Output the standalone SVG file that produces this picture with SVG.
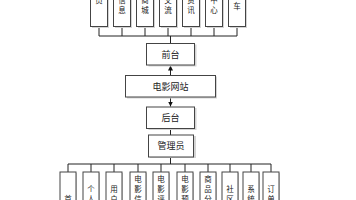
<svg xmlns="http://www.w3.org/2000/svg" width="356" height="200" viewBox="0 0 356 200">
<style>
.box{fill:#fff;stroke:#444;stroke-width:1}
.sh{fill:#d4d4d4}
.ln{stroke:#222;stroke-width:1;fill:none}
.t{font-family:"Noto Sans CJK SC","Noto Sans",sans-serif;font-size:7.5px;fill:#222;text-anchor:middle}
.m{font-family:"Noto Sans CJK SC","Noto Sans",sans-serif;font-size:9px;fill:#222;text-anchor:middle}
</style>
<defs>
<marker id="ah" viewBox="0 0 6 6" refX="6" refY="3" markerWidth="5" markerHeight="5" orient="auto" markerUnits="userSpaceOnUse">
<path d="M0,0 L6,3 L0,6 Z" fill="#111"/>
</marker>
</defs>
<rect width="356" height="200" fill="#fff"/>
<g id="connectors">
<path class="ln" d="M99,27V36M122,27V36M145,27V36M168,27V36M191,27V36M214,27V36M237,27V36M99,36H237M170.5,36V43"/>
<line class="ln" x1="170.5" y1="75" x2="170.5" y2="65.5" marker-end="url(#ah)"/>
<line class="ln" x1="170.5" y1="97" x2="170.5" y2="106.5" marker-end="url(#ah)"/>
<path class="ln" d="M170.5,128V135M170.5,157V164M68,164H271M68,164V172M91,164V172M114,164V172M138,164V172M161,164V172M185,164V172M208,164V172M230,164V172M251,164V172M271,164V172"/>
</g>
<g id="top1"><rect class="sh" x="92" y="-9" width="17" height="37"/><rect class="box" x="90.5" y="-10.5" width="17" height="37"/><text class="t" x="99" y="3">员</text></g>
<g id="top2"><rect class="sh" x="115" y="-9" width="17" height="37"/><rect class="box" x="113.5" y="-10.5" width="17" height="37"/><text class="t" x="122" y="3">信</text><text class="t" x="122" y="12.5">息</text></g>
<g id="top3"><rect class="sh" x="138" y="-9" width="17" height="37"/><rect class="box" x="136.5" y="-10.5" width="17" height="37"/><text class="t" x="145" y="3">商</text><text class="t" x="145" y="12.5">城</text></g>
<g id="top4"><rect class="sh" x="161" y="-9" width="17" height="37"/><rect class="box" x="159.5" y="-10.5" width="17" height="37"/><text class="t" x="168" y="3">交</text><text class="t" x="168" y="12.5">流</text></g>
<g id="top5"><rect class="sh" x="184" y="-9" width="17" height="37"/><rect class="box" x="182.5" y="-10.5" width="17" height="37"/><text class="t" x="191" y="3">资</text><text class="t" x="191" y="12.5">讯</text></g>
<g id="top6"><rect class="sh" x="207" y="-9" width="17" height="37"/><rect class="box" x="205.5" y="-10.5" width="17" height="37"/><text class="t" x="214" y="3">中</text><text class="t" x="214" y="12.5">心</text></g>
<g id="top7"><rect class="sh" x="230" y="-9" width="17" height="37"/><rect class="box" x="228.5" y="-10.5" width="17" height="37"/><text class="t" x="237" y="8.5">车</text></g>
<g id="qiantai"><rect class="sh" x="148.5" y="44.5" width="48" height="22"/><rect class="box" x="146.5" y="43.5" width="48" height="21.5"/><text class="m" x="170.5" y="57.5">前台</text></g>
<g id="website"><rect class="sh" x="127" y="76.5" width="90" height="22"/><rect class="box" x="125.5" y="75.5" width="90" height="21.5"/><text class="m" x="170.5" y="89.5">电影网站</text></g>
<g id="houtai"><rect class="sh" x="148.5" y="108" width="48" height="22"/><rect class="box" x="146.5" y="107" width="48" height="21.5"/><text class="m" x="170.5" y="121">后台</text></g>
<g id="admin"><rect class="sh" x="150" y="136" width="46" height="22"/><rect class="box" x="148.5" y="135" width="45" height="22"/><text class="m" x="171" y="149">管理员</text></g>
<g id="b1"><rect class="sh" x="61" y="173" width="16" height="40"/><rect class="box" x="60" y="172" width="16" height="40"/><text class="t" x="68" y="201.5">首</text></g>
<g id="b2"><rect class="sh" x="84" y="173" width="16" height="40"/><rect class="box" x="83" y="172" width="16" height="40"/><text class="t" x="91" y="192">个</text><text class="t" x="91" y="201.5">人</text></g>
<g id="b3"><rect class="sh" x="107" y="173" width="16" height="40"/><rect class="box" x="106" y="172" width="16" height="40"/><text class="t" x="114" y="192">用</text><text class="t" x="114" y="201.5">户</text></g>
<g id="b4"><rect class="sh" x="131" y="173" width="16" height="40"/><rect class="box" x="130" y="172" width="16" height="40"/><text class="t" x="138" y="182">电</text><text class="t" x="138" y="192">影</text><text class="t" x="138" y="201.5">信</text></g>
<g id="b5"><rect class="sh" x="154" y="173" width="16" height="40"/><rect class="box" x="153" y="172" width="16" height="40"/><text class="t" x="161" y="182">电</text><text class="t" x="161" y="192">影</text><text class="t" x="161" y="201.5">评</text></g>
<g id="b6"><rect class="sh" x="178" y="173" width="16" height="40"/><rect class="box" x="177" y="172" width="16" height="40"/><text class="t" x="185" y="182">电</text><text class="t" x="185" y="192">影</text><text class="t" x="185" y="201.5">预</text></g>
<g id="b7"><rect class="sh" x="201" y="173" width="16" height="40"/><rect class="box" x="200" y="172" width="16" height="40"/><text class="t" x="208" y="182">商</text><text class="t" x="208" y="192">品</text><text class="t" x="208" y="201.5">分</text></g>
<g id="b8"><rect class="sh" x="223" y="173" width="16" height="40"/><rect class="box" x="222" y="172" width="16" height="40"/><text class="t" x="230" y="192">社</text><text class="t" x="230" y="201.5">区</text></g>
<g id="b9"><rect class="sh" x="244" y="173" width="16" height="40"/><rect class="box" x="243" y="172" width="16" height="40"/><text class="t" x="251" y="192">系</text><text class="t" x="251" y="201.5">统</text></g>
<g id="b10"><rect class="sh" x="264" y="173" width="16" height="40"/><rect class="box" x="263" y="172" width="16" height="40"/><text class="t" x="271" y="192">订</text><text class="t" x="271" y="201.5">单</text></g>
</svg>
